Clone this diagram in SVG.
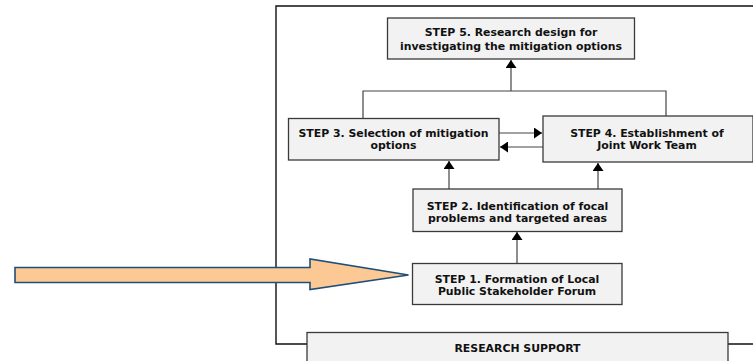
<svg xmlns="http://www.w3.org/2000/svg" width="753" height="361" viewBox="0 0 753 361">
<style>
.box{fill:#f2f2f2;stroke:#3a3a3a;stroke-width:1.3}
.t{font-family:"DejaVu Sans",Verdana,sans-serif;font-weight:bold;font-size:10.9px;fill:#111;text-anchor:middle}
.c{stroke:#444;stroke-width:1.2;fill:none}
.frame{stroke:#111;stroke-width:1.4;fill:none}
</style>
<defs>
<marker id="ah" viewBox="0 0 10 10" refX="10" refY="5" markerWidth="8" markerHeight="11" markerUnits="userSpaceOnUse" orient="auto-start-reverse" preserveAspectRatio="none">
<path d="M0,0 L10,5 L0,10 Z" fill="#000"/>
</marker>
</defs>
<rect width="753" height="361" fill="#fff"/>
<g id="frame">
<path class="frame" d="M754,6 H276 V344 H307 M728,344 H754"/>
</g>
<g id="connectors">
<path class="c" d="M363,118 V91 H666 V116"/>
<path class="c" d="M511,91 V60" marker-end="url(#ah)"/>
<path class="c" d="M499,133 H542" marker-end="url(#ah)"/>
<path class="c" d="M543,147 H500" marker-end="url(#ah)"/>
<path class="c" d="M449,189 V161" marker-end="url(#ah)"/>
<path class="c" d="M598,189 V163" marker-end="url(#ah)"/>
<path class="c" d="M517,263 V232" marker-end="url(#ah)"/>
</g>
<g id="step5">
<rect class="box" x="387.5" y="18" width="247" height="41"/>
<text class="t" x="511" y="36">STEP 5. Research design for</text>
<text class="t" x="511" y="49.5">investigating the mitigation options</text>
</g>
<g id="step3">
<rect class="box" x="288.5" y="118.5" width="210.5" height="41.5"/>
<text class="t" x="393.5" y="137">STEP 3. Selection of mitigation</text>
<text class="t" x="393.5" y="149">options</text>
</g>
<g id="step4">
<rect class="box" x="543" y="116" width="210" height="46"/>
<text class="t" x="647" y="137">STEP 4. Establishment of</text>
<text class="t" x="647" y="148.5">Joint Work Team</text>
</g>
<g id="step2">
<rect class="box" x="413" y="189" width="209" height="42.5"/>
<text class="t" x="517.5" y="209.5">STEP 2. Identification of focal</text>
<text class="t" x="517.5" y="222">problems and targeted areas</text>
</g>
<g id="step1">
<rect class="box" x="412.5" y="263.5" width="209.5" height="41"/>
<text class="t" x="517" y="282.5">STEP 1. Formation of Local</text>
<text class="t" x="517" y="294.5">Public Stakeholder Forum</text>
</g>
<g id="research-support">
<rect class="box" x="307" y="332.5" width="421" height="35"/>
<text class="t" x="517.5" y="352">RESEARCH SUPPORT</text>
</g>
<g id="input-arrow">
<path d="M15,267.5 H310 V259 L408.5,275 L310,289.5 V282.5 H15 Z" fill="#fcc995" stroke="#1f4e79" stroke-width="1.6" stroke-linejoin="miter"/>
</g>
</svg>
